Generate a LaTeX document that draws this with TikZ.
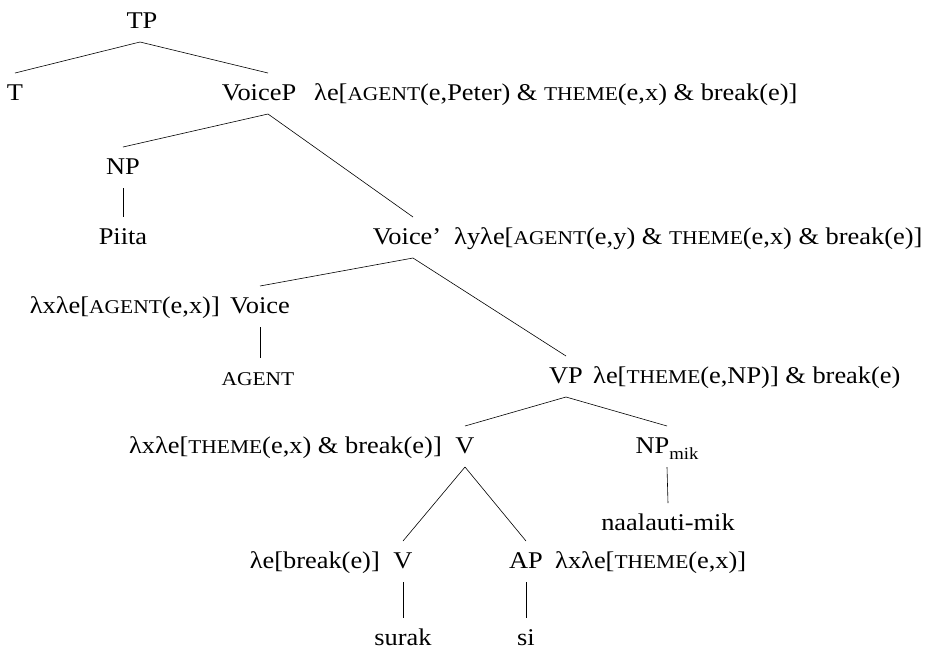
\documentclass[tikz,border=0pt]{standalone}
\usepackage{fontspec}
\setmainfont{Liberation Serif}[FakeStretch=1.1]
\newcommand\fsc[1]{{\fontsize{19.5}{19.5}\selectfont\MakeUppercase{#1}}}
\tikzset{
  cat/.style={inner sep=0pt, text height=16pt, text depth=3pt, outer ysep=11pt, outer xsep=0pt, anchor=base},
  labw/.style={inner sep=0pt, anchor=base west},
  labe/.style={inner sep=0pt, anchor=base east},
  edge/.style={line width=0.6pt, black}
}
\begin{document}
\begin{tikzpicture}[x=1pt,y=-1pt,font=\fontsize{24}{28}\selectfont]
\useasboundingbox (0,0) rectangle (930,649);
% category nodes
\node[cat] (TP) at (142,28) {TP};
\node[cat] (T) at (15,100) {T};
\node[cat] (VoiceP) at (259,100) {VoiceP};
\node[cat] (NP) at (123,174) {NP};
\node[cat] (Piita) at (123,244) {Piita};
\node[cat] (Voicebar) at (407,244) {Voice'};
\node[cat] (Voice) at (260,313) {Voice};
\node[cat] (agent) at (258,385) {\fsc{agent}};
\node[cat] (VP) at (566,383) {VP};
\node[cat] (V1) at (465,453) {V};
\node[cat] (NPmik) at (667,453) {NP\raisebox{-6pt}{\fontsize{17}{17}\selectfont mik}};
\node[cat] (naal) at (668,530) {naalauti-mik};
\node[cat] (V2) at (403,568) {V};
\node[cat] (AP) at (526,568) {AP};
\node[cat] (surak) at (403,645) {surak};
\node[cat] (si) at (526,645) {si};
% semantic labels
\node[labw] (lVoiceP) at (314,100) {λe[\fsc{agent}(e,Peter) \& \fsc{theme}(e,x) \& break(e)]};
\node[labw] (lVoicebar) at (454,244) {λyλe[\fsc{agent}(e,y) \& \fsc{theme}(e,x) \& break(e)]};
\node[labe] (lVoice) at (220,313) {λxλe[\fsc{agent}(e,x)]};
\node[labw] (lVP) at (593,383) {λe[\fsc{theme}(e,NP)] \& break(e)};
\node[labe] (lV1) at (442,453) {λxλe[\fsc{theme}(e,x) \& break(e)]};
\node[labe] (lV2) at (380,568) {λe[break(e)]};
\node[labw] (lAP) at (555,568) {λxλe[\fsc{theme}(e,x)]};
% edges
\draw[edge] ([xshift=-2pt]TP.south) -- (T.north);
\draw[edge] ([xshift=-2pt]TP.south) -- ([xshift=9pt]VoiceP.north);
\draw[edge] ([xshift=9pt]VoiceP.south) -- (NP.north);
\draw[edge] ([xshift=9pt]VoiceP.south) -- ([xshift=6pt]Voicebar.north);
\draw[edge] (NP.south) -- (Piita.north);
\draw[edge] ([xshift=6pt]Voicebar.south) -- (Voice.north);
\draw[edge] ([xshift=6pt]Voicebar.south) -- (VP.north);
\draw[edge] (Voice.south) -- ([xshift=2pt]agent.north);
\draw[edge] (VP.south) -- (V1.north);
\draw[edge] (VP.south) -- (NPmik.north);
\draw[edge] (NPmik.south) -- (naal.north);
\draw[edge] (V1.south) -- (V2.north);
\draw[edge] (V1.south) -- (AP.north);
\draw[edge] (V2.south) -- (surak.north);
\draw[edge] (AP.south) -- (si.north);
\end{tikzpicture}
\end{document}
